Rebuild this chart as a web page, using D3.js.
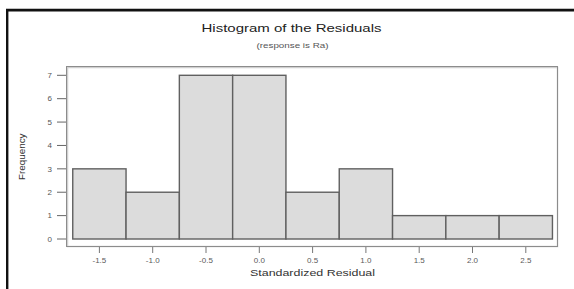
<!DOCTYPE html>
<html>
<head>
<meta charset="utf-8">
<script src="https://cdnjs.cloudflare.com/ajax/libs/d3/7.8.5/d3.min.js"></script>
<style>
  html, body { margin: 0; padding: 0; background: #fff; }
  svg { display: block; font-family: "Liberation Sans", Arial, sans-serif; }
</style>
</head>
<body>
<svg id="chart" width="574" height="289"></svg>
<script>
// histogram bins of the standardized residuals
var binEdges = [-1.75, -1.25, -0.75, -0.25, 0.25, 0.75, 1.25, 1.75, 2.25, 2.75];
var counts = [3, 2, 7, 7, 2, 3, 1, 1, 1];
var xTicks = [-1.5, -1.0, -0.5, 0.0, 0.5, 1.0, 1.5, 2.0, 2.5];
var yTicks = [0, 1, 2, 3, 4, 5, 6, 7];

var svg = d3.select('#chart');

// outer border (top + left only visible)
svg.append('line')
  .attr('x1', 6).attr('x2', 574).attr('y1', 8.6).attr('y2', 8.6)
  .attr('stroke', '#bbb').attr('stroke-width', 1);
svg.append('line')
  .attr('x1', 6).attr('x2', 574).attr('y1', 10.3).attr('y2', 10.3)
  .attr('stroke', '#111').attr('stroke-width', 2.4);
svg.append('line')
  .attr('x1', 7.2).attr('x2', 7.2).attr('y1', 9).attr('y2', 289)
  .attr('stroke', '#111').attr('stroke-width', 2.4);

var x = d3.scaleLinear().domain([0, 1]).range([259.3, 365.9]);
var y = d3.scaleLinear().domain([0, 7]).range([239, 75.3]);

// plot frame
svg.append('rect')
  .attr('x', 67.5).attr('y', 67.5).attr('width', 490).attr('height', 179)
  .attr('fill', 'none').attr('stroke', '#d0d0d0').attr('stroke-width', 1.5);
svg.append('rect')
  .attr('x', 66.5).attr('y', 66.5).attr('width', 491).attr('height', 180)
  .attr('fill', 'none').attr('stroke', '#8c8c8c').attr('stroke-width', 1);

// bars
var bins = counts.map(function(c, i) { return {x0: binEdges[i], x1: binEdges[i + 1], n: c}; });
svg.append('g').selectAll('rect')
  .data(bins)
  .enter()
  .append('rect')
  .attr('x', d => x(d.x0))
  .attr('width', d => x(d.x1) - x(d.x0))
  .attr('y', d => y(d.n))
  .attr('height', d => y(0) - y(d.n))
  .attr('fill', '#dcdcdc')
  .attr('stroke', '#606060')
  .attr('stroke-width', 1.4);

// y axis ticks
var yAxis = svg.append('g');
yTicks.forEach(function(t) {
  yAxis.append('line')
    .attr('x1', 57).attr('x2', 66).attr('y1', y(t)).attr('y2', y(t))
    .attr('stroke', '#666').attr('stroke-width', 1);
  yAxis.append('text')
    .attr('x', 52).attr('y', y(t) + 2.8)
    .attr('text-anchor', 'end')
    .attr('font-size', 8)
    .attr('fill', '#555')
    .text(t);
});

// x axis ticks
var xAxis = svg.append('g');
xTicks.forEach(function(t) {
  xAxis.append('line')
    .attr('x1', x(t)).attr('x2', x(t)).attr('y1', 247).attr('y2', 253)
    .attr('stroke', '#777').attr('stroke-width', 1);
  xAxis.append('text')
    .attr('x', x(t)).attr('y', 262.5)
    .attr('text-anchor', 'middle')
    .attr('font-size', 8)
    .attr('fill', '#5a5a5a')
    .text(t.toFixed(1));
});

// titles
svg.append('text')
  .attr('x', 201.5).attr('y', 32)
  .attr('font-size', 11.5)
  .attr('fill', '#222')
  .attr('textLength', 180).attr('lengthAdjust', 'spacingAndGlyphs')
  .text('Histogram of the Residuals');

svg.append('text')
  .attr('x', 256.5).attr('y', 47.5)
  .attr('font-size', 6.5)
  .attr('fill', '#555')
  .attr('textLength', 72).attr('lengthAdjust', 'spacingAndGlyphs')
  .text('(response is Ra)');

svg.append('text')
  .attr('x', 250).attr('y', 276)
  .attr('font-size', 9.5)
  .attr('fill', '#333')
  .attr('textLength', 125).attr('lengthAdjust', 'spacingAndGlyphs')
  .text('Standardized Residual');

svg.append('text')
  .attr('transform', 'translate(25,180) rotate(-90)')
  .attr('font-size', 9.5)
  .attr('fill', '#333')
  .attr('textLength', 46.5).attr('lengthAdjust', 'spacingAndGlyphs')
  .text('Frequency');
</script>
</body>
</html>
